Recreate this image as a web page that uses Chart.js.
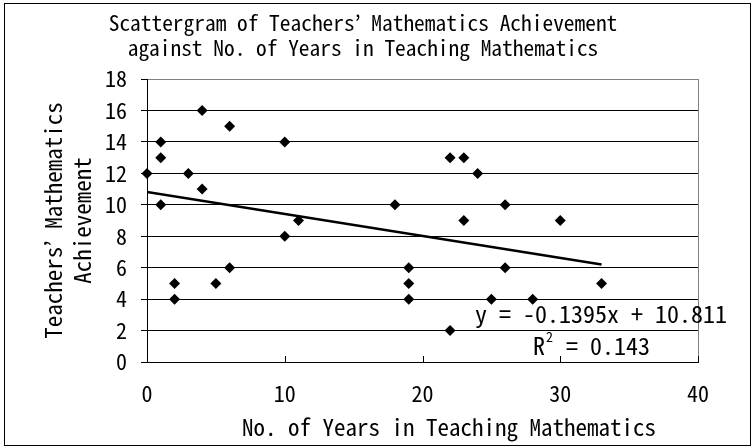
<!DOCTYPE html>
<html>
<head>
<meta charset="utf-8">
<title>Scattergram</title>
<script src="https://cdn.jsdelivr.net/npm/chart.js@4/dist/chart.umd.min.js"></script>
<style>
    html, body { margin: 0; padding: 0; background: #fff; }
    #chart { display: block; }
</style>
</head>
<body>
<canvas id="chart" width="754" height="447"></canvas>
<script>
// Chart data
const yearsTeaching = [0, 1, 1, 1, 2, 2, 3, 4, 4, 5, 6, 6, 10, 10, 11, 18, 19, 19, 19, 22, 22, 23, 23, 24, 25, 26, 26, 28, 30, 33];
const achievement   = [12, 14, 13, 10, 5, 4, 12, 16, 11, 5, 15, 6, 14, 8, 9, 10, 6, 5, 4, 13, 2, 13, 9, 12, 4, 10, 6, 4, 9, 5];
const trendSlope = -0.1395;
const trendIntercept = 10.811;
const trendRange = [0, 33];
const xTicks = [0, 10, 20, 30, 40];
const yTicks = [0, 2, 4, 6, 8, 10, 12, 14, 16, 18];

const titleLines = ['Scattergram of Teachers\u2019 Mathematics Achievement', 'against No. of Years in Teaching Mathematics'];
const xTitle = 'No. of Years in Teaching Mathematics';
const yTitleLines = ['Teachers\u2019 Mathematics', 'Achievement'];
const equationText = 'y = -0.1395x + 10.811';
const rSquaredText = ' = 0.143';

const FONT = '"Noto Sans Mono CJK JP", "DejaVu Sans Mono", monospace';

// Frame, inner x ticks, x title and trendline label
const framePlugin = {
    id: 'frame',
    beforeDraw(chart) {
        const ctx = chart.ctx;
        ctx.save();
        ctx.fillStyle = '#fff';
        ctx.fillRect(0, 0, chart.width, chart.height);
        ctx.strokeStyle = '#000';
        ctx.lineWidth = 1;
        ctx.strokeRect(4.5, 3.5, 746, 442);
        ctx.restore();
    },
    beforeDatasetsDraw(chart) {
        const { ctx, chartArea: a, scales: { x } } = chart;
        ctx.save();
        ctx.lineWidth = 1;
        ctx.strokeStyle = '#808080';
        ctx.beginPath();
        ctx.moveTo(Math.round(a.right) + 0.5, a.top);
        ctx.lineTo(Math.round(a.right) + 0.5, a.bottom);
        ctx.stroke();

        ctx.strokeStyle = '#000';
        ctx.beginPath();
        x.ticks.forEach(t => {
            const px = Math.round(x.getPixelForValue(t.value)) + 0.5;
            ctx.moveTo(px, a.bottom);
            ctx.lineTo(px, a.bottom - 6);
        });
        ctx.stroke();
        ctx.restore();
    },
    afterDraw(chart) {
        const ctx = chart.ctx;
        ctx.save();
        ctx.fillStyle = '#000';
        ctx.textBaseline = 'middle';

        // x axis title
        ctx.font = '23px ' + FONT;
        ctx.textAlign = 'center';
        ctx.fillText(xTitle, 449, 427);

        // trendline equation
        ctx.font = '24px ' + FONT;
        ctx.textAlign = 'left';
        ctx.fillText(equationText, 475, 314);
        ctx.fillText('R', 533, 346);
        const rw = ctx.measureText('R').width;
        ctx.font = '14px ' + FONT;
        ctx.fillText('2', 533 + rw + 1, 337);
        const sw = ctx.measureText('2').width;
        ctx.font = '24px ' + FONT;
        ctx.fillText(rSquaredText, 533 + rw + sw + 2, 346);
        ctx.restore();
    }
};

const ctx = document.getElementById('chart');
new Chart(ctx, {
    type: 'scatter',
    data: {
        datasets: [{
            label: 'Teachers',
            data: yearsTeaching.map((x, i) => ({ x: x, y: achievement[i] })),
            pointStyle: 'rectRot',
            pointRadius: 5.5,
            backgroundColor: '#000',
            borderColor: '#000',
            borderWidth: 0,
            clip: false,
            order: 2
        }, {
            type: 'line',
            label: 'Trend',
            data: trendRange.map(x => ({ x: x, y: trendIntercept + trendSlope * x })),
            borderColor: '#000',
            borderWidth: 2.5,
            pointRadius: 0,
            fill: false,
            order: 1
        }]
    },
    options: {
        responsive: false,
        animation: false,
        layout: {
            padding: { left: 28, right: 56, top: 10, bottom: 4 }
        },
        plugins: {
            legend: { display: false },
            tooltip: { enabled: false },
            title: {
                display: true,
                text: titleLines,
                color: '#000',
                font: { family: FONT, size: 21.4, weight: 'normal', lineHeight: 1.17 },
                padding: { top: 0, bottom: 19 }
            }
        },
        scales: {
            x: {
                type: 'linear',
                position: 'bottom',
                min: 0,
                max: 40,
                afterBuildTicks: scale => { scale.ticks = xTicks.map(v => ({ value: v })); },
                afterFit: scale => { scale.height = 81; },
                ticks: {
                    color: '#000',
                    font: { family: FONT, size: 22 },
                    padding: 18,
                    maxRotation: 0
                },
                grid: { drawOnChartArea: false, drawTicks: false },
                border: { color: '#000', width: 1 }
            },
            y: {
                min: 0,
                max: 18,
                afterBuildTicks: scale => { scale.ticks = yTicks.map(v => ({ value: v })); },
                afterFit: scale => { scale.width = 119; },
                ticks: {
                    color: '#000',
                    font: { family: FONT, size: 22 },
                    padding: 14
                },
                grid: {
                    color: c => (c.tick && c.tick.value === 18 ? '#808080' : '#000'),
                    tickColor: '#000',
                    tickLength: 6,
                    lineWidth: 1
                },
                border: { color: '#000', width: 1 },
                title: {
                    display: true,
                    text: yTitleLines,
                    color: '#000',
                    font: { family: FONT, size: 23, lineHeight: 1.26 },
                    padding: { top: 10.5, bottom: 0 }
                }
            }
        }
    },
    plugins: [framePlugin]
});
</script>
</body>
</html>
